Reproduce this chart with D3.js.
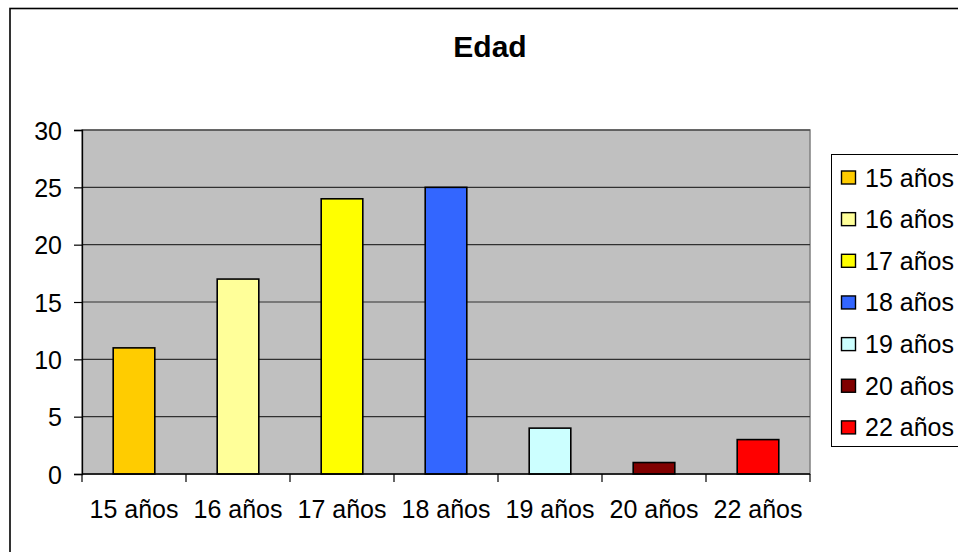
<!DOCTYPE html>
<html><head><meta charset="utf-8">
<script src="https://cdn.jsdelivr.net/npm/d3@7"></script>
<style>html,body{margin:0;padding:0;background:#fff;overflow:hidden}</style>
</head><body>
<svg id="chart" width="958" height="552"></svg>
<script>
const categories = ["15 años","16 años","17 años","18 años","19 años","20 años","22 años"];
const values = [11, 17, 24, 25, 4, 1, 3];
const colors = ["#FFCC00","#FFFF99","#FFFF00","#3366FF","#CCFFFF","#800000","#FF0000"];
const yTicks = [0,5,10,15,20,25,30];
const title = "Edad";

const svg = d3.select("#chart");
const font = "Liberation Sans, Arial, sans-serif";
const M = {left:82, right:810, top:130, bottom:474};

// outer chart border
svg.append("rect").attr("x",10).attr("y",8.5).attr("width",1000).attr("height",600)
  .attr("fill","#fff").attr("stroke","#000").attr("stroke-width",1.6);

svg.append("text").attr("x",490).attr("y",57).attr("text-anchor","middle")
  .attr("font-family",font).attr("font-weight","bold").attr("font-size",30).text(title);

const x = d3.scaleBand().domain(categories).range([M.left,M.right]).paddingInner(0.6).paddingOuter(0.3);
const xb = d3.scaleBand().domain(categories).range([M.left,M.right]).padding(0);
const y = d3.scaleLinear().domain([0,30]).range([M.bottom,M.top]);

// plot background
svg.append("rect").attr("x",M.left).attr("y",M.top).attr("width",M.right-M.left).attr("height",M.bottom-M.top)
  .attr("fill","#C0C0C0").attr("stroke","#808080").attr("stroke-width",1.5);

// gridlines
svg.append("g").selectAll("line").data(yTicks.filter(d=>d>0)).join("line")
  .attr("x1",M.left).attr("x2",M.right).attr("y1",d=>y(d)).attr("y2",d=>y(d))
  .attr("stroke","#303030").attr("stroke-width",1.2);

// bars
svg.append("g").selectAll("rect").data(values).join("rect")
  .attr("x",(d,i)=>x(categories[i])).attr("width",x.bandwidth())
  .attr("y",d=>y(d)).attr("height",d=>y(0)-y(d))
  .attr("fill",(d,i)=>colors[i]).attr("stroke","#000").attr("stroke-width",1.6);

// y axis
const yAxis = svg.append("g").attr("transform",`translate(${M.left},0)`)
  .call(d3.axisLeft(y).tickValues(yTicks).tickSize(8).tickPadding(12));
yAxis.select(".domain").attr("stroke","#000").attr("stroke-width",1.3);
yAxis.selectAll(".tick line").attr("stroke","#000").attr("stroke-width",1.2);
yAxis.selectAll("text").attr("font-family",font).attr("font-size",25).attr("fill","#000").attr("dy","0.36em");

// x axis: labels centered, ticks at boundaries
const xAxis = svg.append("g").attr("transform",`translate(0,${M.bottom})`)
  .call(d3.axisBottom(xb).tickSize(0).tickPadding(26));
xAxis.select(".domain").remove();
xAxis.selectAll("text").attr("font-family",font).attr("font-size",25).attr("fill","#000").attr("dy","0.71em");
svg.append("line").attr("x1",M.left).attr("x2",M.right).attr("y1",M.bottom).attr("y2",M.bottom)
  .attr("stroke","#000").attr("stroke-width",1.3);
const bounds = categories.map(c=>xb(c)).concat([M.right]);
svg.append("g").selectAll("line").data(bounds).join("line")
  .attr("x1",d=>d).attr("x2",d=>d).attr("y1",M.bottom).attr("y2",M.bottom+8)
  .attr("stroke","#000").attr("stroke-width",1.2);

// legend
const lg = svg.append("g");
lg.append("rect").attr("x",831.5).attr("y",154.5).attr("width",200).attr("height",292)
  .attr("fill","#fff").attr("stroke","#000").attr("stroke-width",1);
const items = lg.selectAll("g.it").data(categories).join("g").attr("class","it")
  .attr("transform",(d,i)=>`translate(0,${177.5 + i*41.65})`);
items.append("rect").attr("x",841.5).attr("y",-6.5).attr("width",14).attr("height",13)
  .attr("fill",(d,i)=>colors[i]).attr("stroke","#000").attr("stroke-width",1.4);
items.append("text").attr("x",865).attr("y",0).attr("dy","0.36em")
  .attr("font-family",font).attr("font-size",25).attr("fill","#000").text(d=>d);
</script>
</body></html>
